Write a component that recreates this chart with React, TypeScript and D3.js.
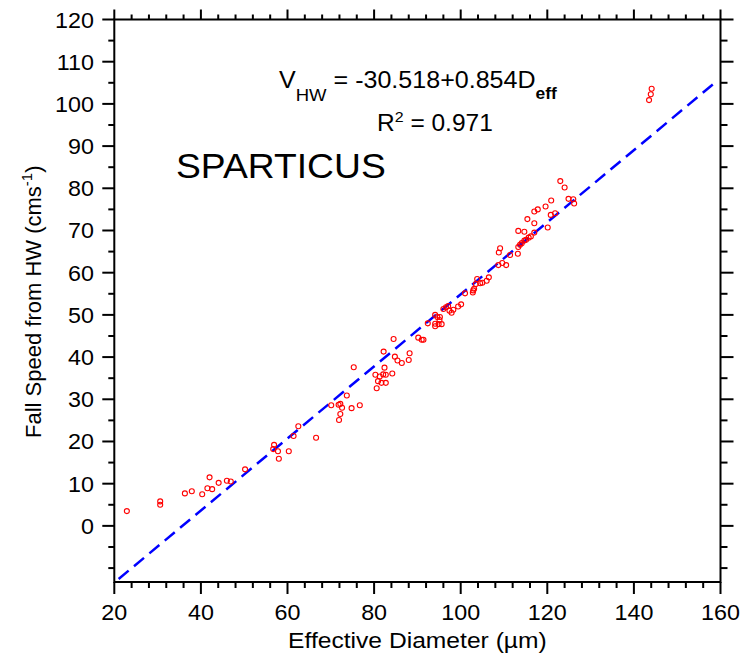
import React from "react";
import * as d3 from "d3";

const diameters = [22.9, 30.6, 30.6, 36.3, 37.9, 40.3, 41.5, 42.6, 42.0, 44.1, 46.0, 46.9, 50.2, 56.9, 56.7, 57.8, 58.0, 60.3, 61.4, 62.5, 66.6, 70.1, 71.8, 72.2, 72.6, 72.2, 71.9, 73.7, 74.8, 76.7, 75.3, 80.6, 80.3, 80.9, 81.7, 82.7, 81.3, 82.1, 82.4, 82.7, 84.2, 82.2, 84.5, 84.8, 85.4, 86.4, 88.0, 88.2, 90.2, 91.0, 91.4, 92.4, 94.1, 94.1, 94.1, 94.9, 95.6, 95.1, 95.2, 94.6, 96.0, 97.1, 97.4, 97.9, 98.3, 96.6, 99.4, 100.1, 101.0, 102.8, 102.9, 103.1, 103.5, 103.8, 104.5, 105.0, 106.0, 106.5, 108.7, 109.6, 110.5, 108.8, 109.1, 111.4, 113.2, 113.3, 113.7, 114.1, 114.7, 115.1, 115.7, 116.2, 113.3, 114.7, 117.0, 115.4, 117.0, 117.0, 117.8, 119.6, 120.1, 120.8, 121.8, 120.9, 123.0, 124.0, 124.9, 126.0, 126.2, 143.5, 143.9, 144.1];
const fallSpeeds = [3.5, 5.8, 5.0, 7.7, 8.2, 7.5, 8.9, 8.7, 11.5, 10.2, 10.7, 10.5, 13.4, 19.2, 18.2, 17.7, 15.9, 17.7, 21.3, 23.6, 20.9, 28.6, 28.7, 28.9, 28.0, 26.5, 25.1, 30.9, 27.9, 28.6, 37.6, 32.6, 35.8, 34.3, 33.9, 33.9, 35.4, 35.9, 37.5, 35.8, 36.1, 41.3, 44.3, 40.1, 39.2, 38.6, 39.3, 40.9, 44.6, 44.1, 44.1, 48.0, 50.0, 47.3, 47.9, 47.8, 47.8, 48.8, 49.5, 49.5, 51.4, 52.1, 51.0, 50.5, 51.2, 51.8, 52.0, 52.5, 55.1, 55.3, 55.8, 56.2, 57.3, 58.5, 57.5, 57.6, 58.1, 58.9, 61.8, 62.3, 61.8, 64.8, 65.8, 64.2, 64.5, 66.1, 66.6, 67.0, 67.6, 67.8, 68.3, 68.6, 69.9, 69.7, 69.5, 72.7, 71.7, 74.5, 75.0, 75.7, 70.7, 73.7, 74.1, 77.1, 81.7, 80.2, 77.5, 77.4, 76.4, 100.9, 102.3, 103.6];

const fitIntercept = -30.518;
const fitSlope = 0.854;
const fitRange = [21, 159];

const xDomain = [20, 160];
const yDomain = [-13.3, 120];
const xMajorTicks = [20, 40, 60, 80, 100, 120, 140, 160];
const xMinorStep = 4;
const yMajorTicks = [0, 10, 20, 30, 40, 50, 60, 70, 80, 90, 100, 110, 120];
const yMinorTicks = [-10, -5, 5, 15, 25, 35, 45, 55, 65, 75, 85, 95, 105, 115];

const FONT = "'Liberation Sans', Arial, Helvetica, sans-serif";

export default function App() {
  const left = 114.3, right = 720.5, top = 19.5, bottom = 582;
  const x = d3.scaleLinear().domain(xDomain).range([left, right]);
  const y = d3.scaleLinear().domain(yDomain).range([bottom, top]);
  const xMinor = d3.range(xDomain[0], xDomain[1] + 0.01, xMinorStep).filter(v => !xMajorTicks.includes(v));
  const fitLine = d3.line<number>().x(d => x(d)).y(d => y(fitIntercept + fitSlope * d));
  const MAJ = 12, MIN = 6, SW = 2;
  const TS = 1.06;

  return (
    <svg width={744} height={655} style={{ position: "absolute", left: 0, top: 0, background: "#fff" }} fontFamily={FONT}>
      <rect x={0} y={0} width={744} height={655} fill="#fff" />
      {/* fit line */}
      <path d={fitLine(fitRange) || ""} fill="none" stroke="#0000ff" strokeWidth={2.5} strokeDasharray="13,7" />
      {/* points */}
      {diameters.map((dv, i) => (
        <circle key={i} cx={x(dv)} cy={y(fallSpeeds[i])} r={2.5} fill="none" stroke="#ff0000" strokeWidth={1.1} />
      ))}
      {/* frame */}
      <rect x={left} y={top} width={right - left} height={bottom - top} fill="none" stroke="#000" strokeWidth={SW} />
      {/* x ticks bottom & top */}
      {xMajorTicks.map(v => (
        <g key={"xm" + v}>
          <line x1={x(v)} x2={x(v)} y1={bottom} y2={bottom + MAJ} stroke="#000" strokeWidth={SW} />
          <line x1={x(v)} x2={x(v)} y1={top} y2={top - 10} stroke="#000" strokeWidth={SW} />
          <g transform={`translate(${x(v)}, 620) scale(${TS}, 1)`}>
            <text x={0} y={0} textAnchor="middle" fontSize={22}>{v}</text>
          </g>
        </g>
      ))}
      {xMinor.map(v => (
        <g key={"xn" + v}>
          <line x1={x(v)} x2={x(v)} y1={bottom} y2={bottom + MIN} stroke="#000" strokeWidth={SW} />
          <line x1={x(v)} x2={x(v)} y1={top} y2={top - 5} stroke="#000" strokeWidth={SW} />
        </g>
      ))}
      {/* y ticks left & right */}
      {yMajorTicks.map(v => (
        <g key={"ym" + v}>
          <line x1={left - MAJ} x2={left} y1={y(v)} y2={y(v)} stroke="#000" strokeWidth={SW} />
          <line x1={right} x2={right + 13} y1={y(v)} y2={y(v)} stroke="#000" strokeWidth={SW} />
          <g transform={`translate(94, ${y(v) + 8}) scale(${TS}, 1)`}>
            <text x={0} y={0} textAnchor="end" fontSize={22}>{v}</text>
          </g>
        </g>
      ))}
      {yMinorTicks.map(v => (
        <g key={"yn" + v}>
          <line x1={left - MIN} x2={left} y1={y(v)} y2={y(v)} stroke="#000" strokeWidth={SW} />
          <line x1={right} x2={right + 7} y1={y(v)} y2={y(v)} stroke="#000" strokeWidth={SW} />
        </g>
      ))}
      {/* axis labels */}
      <g transform={`translate(${(left + right) / 2}, 648) scale(1.12, 1)`}>
        <text x={0} y={0} textAnchor="middle" fontSize={22}>Effective Diameter (µm)</text>
      </g>
      <text transform={`translate(41, ${(top + bottom) / 2 + 1}) rotate(-90)`} textAnchor="middle" fontSize={22}>
        Fall Speed from HW (cms<tspan dy={-9} fontSize={15}>-1</tspan><tspan dy={9}>)</tspan>
      </text>
      {/* annotations */}
      <g transform="translate(176, 178) scale(1.035, 1)">
        <text x={0} y={0} fontSize={36}>SPARTICUS</text>
      </g>
      <g transform="translate(279, 88) scale(1.09, 1)">
        <text x={0} y={0} fontSize={23}>
          V<tspan dy={13} fontSize={17}>HW</tspan>
          <tspan dy={-13}> = -30.518+0.854D</tspan>
          <tspan dy={11} fontSize={16} fontWeight="bold">eff</tspan>
        </text>
      </g>
      <g transform="translate(377, 131) scale(1.065, 1)">
        <text x={0} y={0} fontSize={23}>
          R<tspan dy={-9} fontSize={15}>2</tspan><tspan dy={9}> = 0.971</tspan>
        </text>
      </g>
    </svg>
  );
}
